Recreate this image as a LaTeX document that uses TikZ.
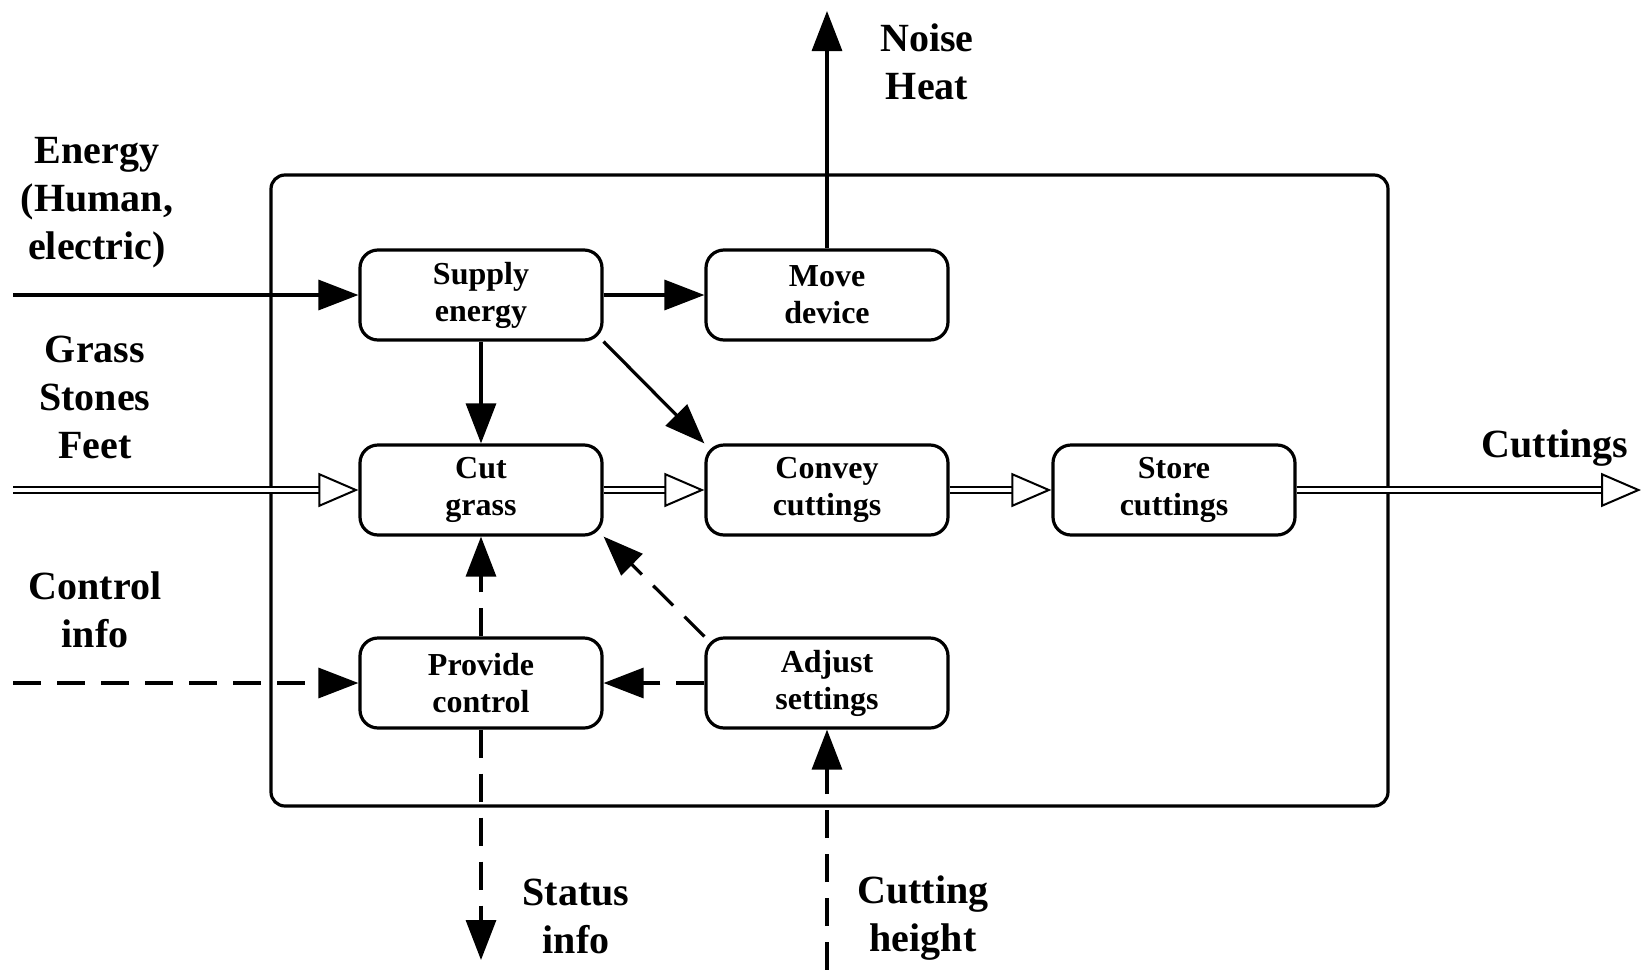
\documentclass[tikz,border=0pt]{standalone}
\usepackage{fontspec}
\setmainfont{Liberation Serif}
\usetikzlibrary{arrows.meta}
\begin{document}
\begin{tikzpicture}[x=0.5pt,y=-0.5pt,
  fn/.style={draw, line width=1.6pt, rounded corners=9pt, minimum width=121pt,
    minimum height=45pt, inner sep=0pt, align=center,
    font=\fontsize{16}{18.5}\selectfont\bfseries},
  lbl/.style={align=center, inner sep=0pt, font=\fontsize{20}{24}\selectfont\bfseries},
  energyflow/.style={line width=1.6pt, -{Triangle[length=20pt,width=15pt]}},
  signal/.style={line width=1.6pt, dash pattern=on 14pt off 8pt,
    -{Triangle[length=20pt,width=15pt]}},
  material/.style={double, line width=1pt, double distance=1.6pt,
    -{Triangle[open,length=20pt,width=17pt]}},
]
\useasboundingbox (0,0) rectangle (1646,970);

% system boundary
\draw[line width=1.6pt, rounded corners=7pt] (271,175) rectangle (1388,806);

% functions
\node[fn] (sup)   at (481,295)  {Supply\\energy};
\node[fn] (move)  at (827,295)  {Move\\device};
\node[fn] (cut)   at (481,490)  {Cut\\grass};
\node[fn] (conv)  at (827,490)  {Convey\\cuttings};
\node[fn] (store) at (1174,490) {Store\\cuttings};
\node[fn] (prov)  at (481,683)  {Provide\\control};
\node[fn] (adj)   at (827,683)  {Adjust\\settings};

% boundary ends of the flows
\coordinate (ein)   at (13,295);
\coordinate (gin)   at (13,490);
\coordinate (cin)   at (13,683);
\coordinate (nout)  at (827,11);
\coordinate (sout)  at (481,960);
\coordinate (hin)   at (827,970);
\coordinate (cout)  at (1641,490);

% flow labels
\node[lbl] (lenergy)  at (97,203)  {Energy\\(Human,\\electric)};
\node[lbl] (lgrass)   at (95,397)  {Grass\\Stones\\Feet};
\node[lbl] (lcontrol) at (95,610)  {Control\\info};
\node[lbl] (lnoise)   at (927,62)  {Noise\\Heat};
\node[lbl] (lcut)     at (1555,448) {Cuttings};
\node[lbl] (lstatus)  at (576,916) {Status\\info};
\node[lbl] (lheight)  at (923,918) {Cutting\\height};

% energy flows
\draw[energyflow] (ein) -- (sup.west);
\draw[energyflow] (sup.east) -- (move.west);
\draw[energyflow] (sup.south) -- (cut.north);
\draw[energyflow] (sup.south east) -- (conv.north west);
\draw[energyflow] (move.north) -- (nout);

% material flows
\draw[material] (gin) -- (cut.west);
\draw[material] (cut.east) -- (conv.west);
\draw[material] (conv.east) -- (store.west);
\draw[material] (store.east) -- (cout);

% signal flows
\draw[signal] (cin) -- (prov.west);
\draw[signal] (adj.west) -- (prov.east);
\draw[signal] (adj.north west) -- (cut.south east);
\draw[signal] (prov.north) -- (cut.south);
\draw[signal] (prov.south) -- (sout);
\draw[signal] (hin) -- (adj.south);
\end{tikzpicture}
\end{document}
